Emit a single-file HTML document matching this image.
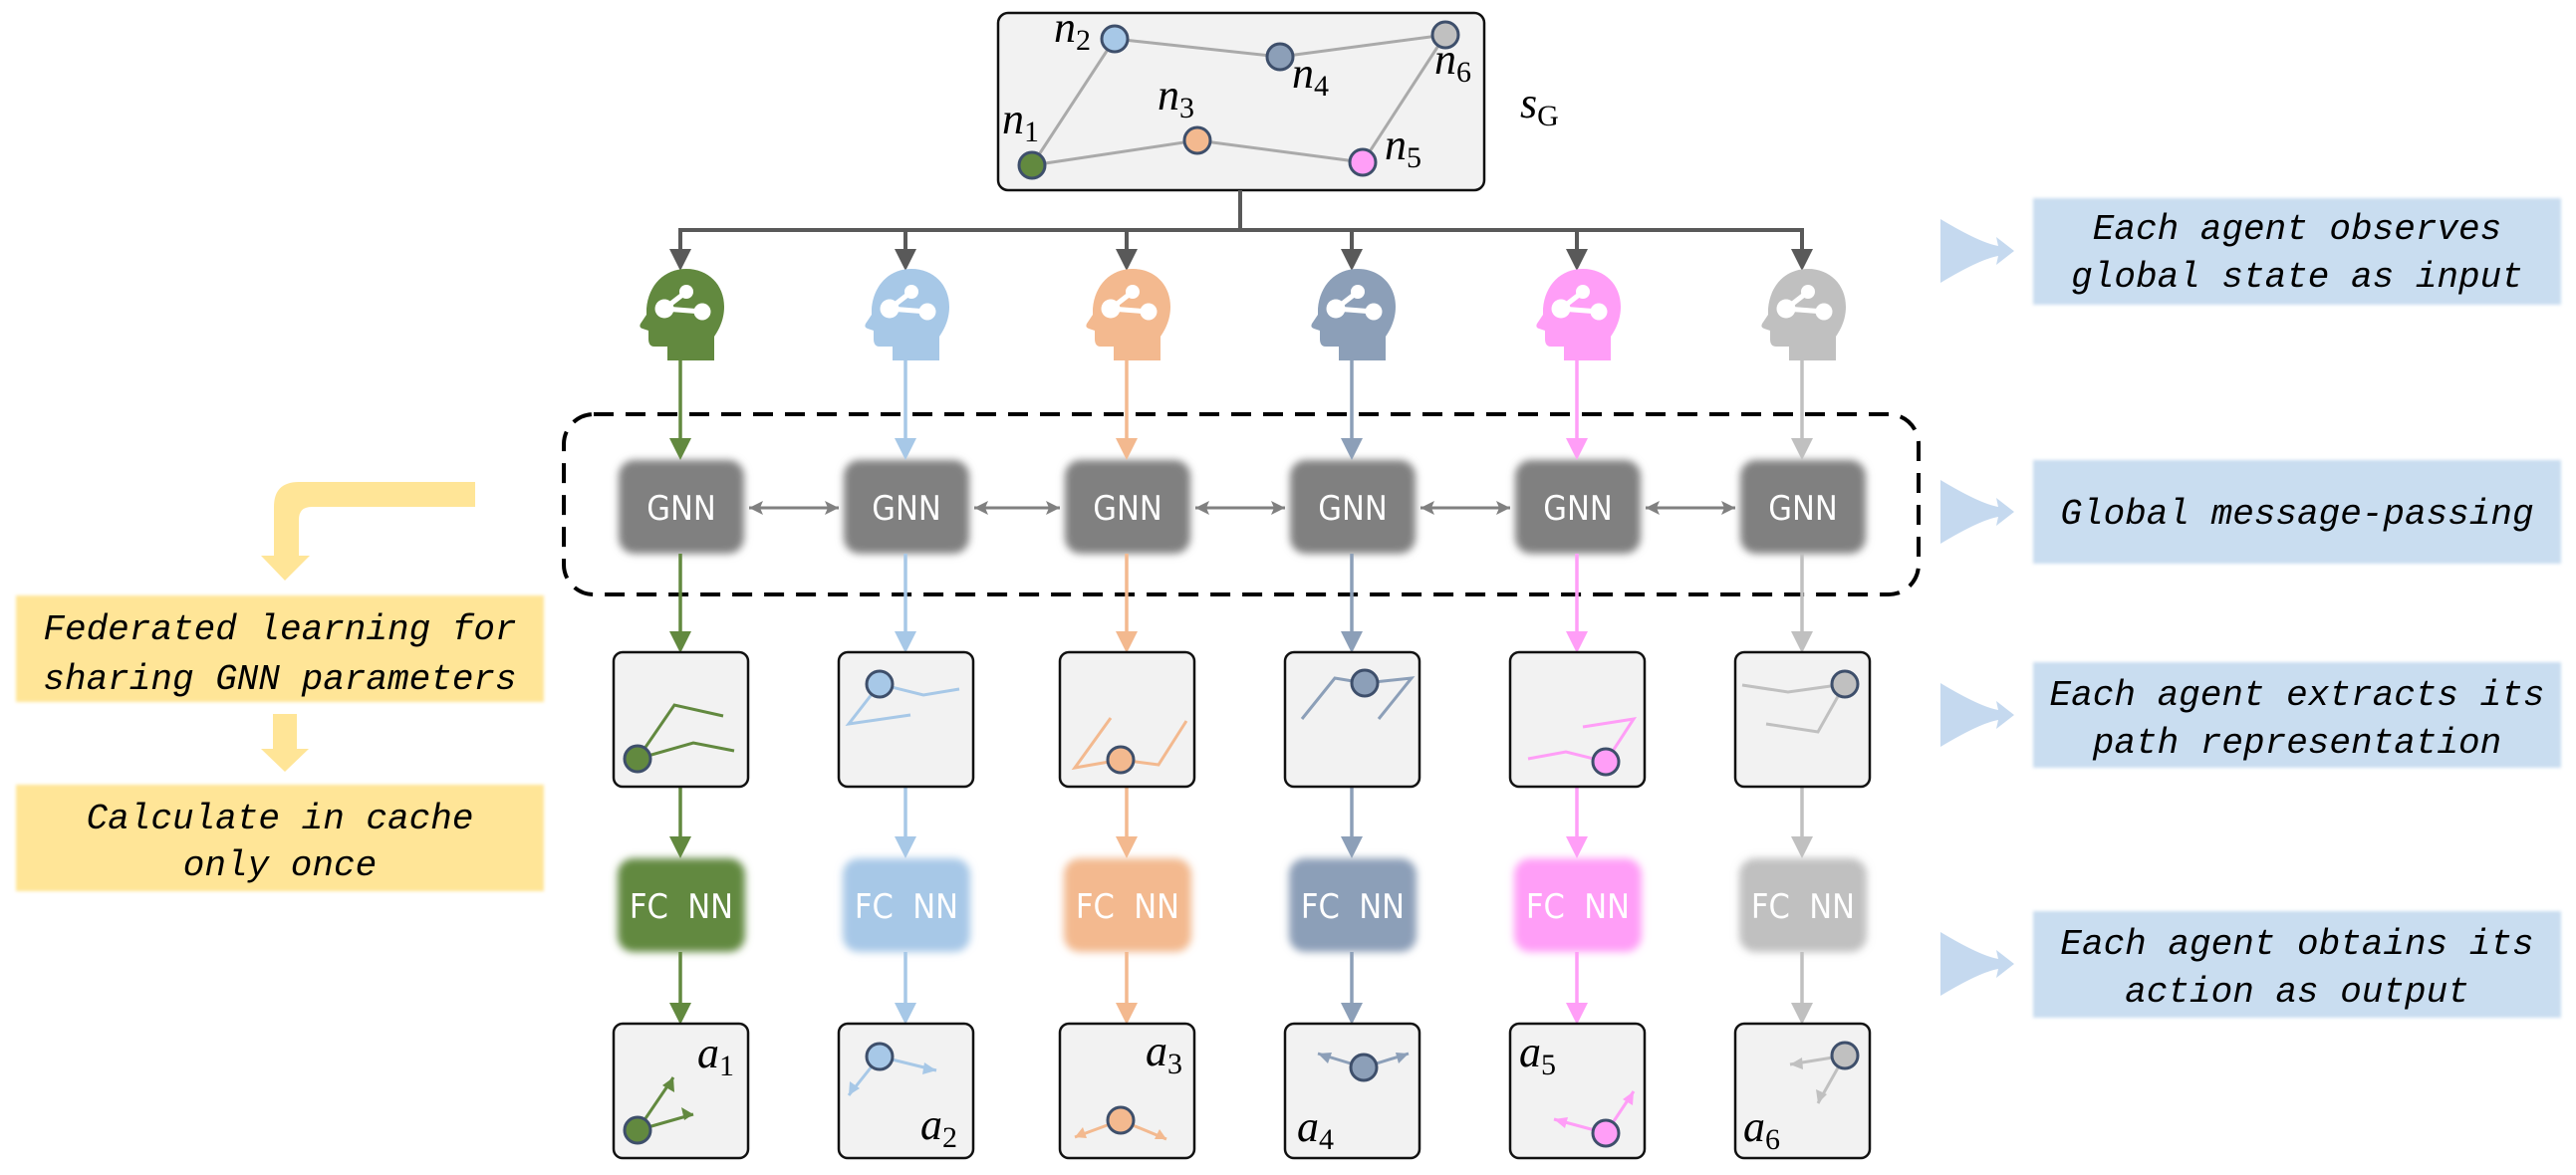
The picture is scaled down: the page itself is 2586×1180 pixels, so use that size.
<!DOCTYPE html>
<html><head><meta charset="utf-8"><style>
html,body{margin:0;padding:0;background:#fff;}
svg{display:block;}
.m{font-family:"Liberation Mono",monospace;font-style:italic;font-size:36px;fill:#000;}
.lab{font-family:"Liberation Serif",serif;font-style:italic;font-size:44px;fill:#000;}
.sub{font-size:30px;font-style:normal;}
.w{font-family:"DejaVu Sans Condensed","Liberation Sans Narrow","Liberation Sans",sans-serif;font-size:34px;fill:#fff;}
</style></head><body>
<svg width="2586" height="1180" viewBox="0 0 2586 1180" xmlns="http://www.w3.org/2000/svg">
<defs>
<filter id="bl" x="-20%" y="-20%" width="140%" height="140%"><feGaussianBlur stdDeviation="4"/></filter>
<filter id="bl2" x="-10%" y="-10%" width="120%" height="120%"><feGaussianBlur stdDeviation="1.5"/></filter>
<g id="head">
<path d="M29,92 L29,78 L16,78 C11,78 10,74 10,70 L10,62 L4,60 C1,59 1,57 2,55 L8,46 C8,44 8,42 8,40 C10,16 26,0 48,0 C70,0 86,16 86,38 C86,52 80,62 76,68 L76,92 Z"/>
<g stroke="#fff" stroke-width="5" fill="#fff"><line x1="48" y1="23" x2="26" y2="40"/><line x1="26" y1="40" x2="64" y2="43"/>
<circle cx="48" cy="23" r="7" stroke="none"/><circle cx="26" cy="40" r="9.5" stroke="none"/><circle cx="64" cy="43" r="8.5" stroke="none"/></g>
</g>
<path id="chev" d="M0,0 Q40,24 58,27 L56,18 L74,32 L56,46 L58,37 Q40,40 0,64 Z"/>
</defs>

<rect x="1002" y="13" width="488" height="178" rx="10" fill="#f2f2f2" stroke="#111" stroke-width="2.5"/>
<g stroke="#aaa" stroke-width="3" fill="none">
<polyline points="1036,166 1119,39 1285,57 1451,35 1368,163 1202,141 1036,166"/>
</g>
<g stroke="#3e4f6b" stroke-width="3">
<circle cx="1119" cy="39" r="13" fill="#a7c8e7"/>
<circle cx="1285" cy="57" r="13" fill="#8c9fb8"/>
<circle cx="1451" cy="35" r="13" fill="#c0c0c0"/>
<circle cx="1202" cy="141" r="13" fill="#f3b98f"/>
<circle cx="1036" cy="166" r="13" fill="#62893f"/>
<circle cx="1368" cy="163" r="13" fill="#ff9ef7"/>
</g>
<text class="lab" x="1058" y="42">n<tspan class="sub" dy="8">2</tspan></text>
<text class="lab" x="1297" y="88">n<tspan class="sub" dy="8">4</tspan></text>
<text class="lab" x="1440" y="74">n<tspan class="sub" dy="8">6</tspan></text>
<text class="lab" x="1162" y="110">n<tspan class="sub" dy="8">3</tspan></text>
<text class="lab" x="1006" y="134">n<tspan class="sub" dy="8">1</tspan></text>
<text class="lab" x="1390" y="160">n<tspan class="sub" dy="8">5</tspan></text>
<text class="lab" x="1526" y="118">s<tspan class="sub" font-style="italic" dy="8">G</tspan></text>

<g stroke="#595959" stroke-width="4" fill="none">
<line x1="1245" y1="191" x2="1245" y2="231"/>
<line x1="683" y1="231" x2="1809" y2="231"/>
<line x1="683" y1="229" x2="683" y2="252"/><line x1="909" y1="229" x2="909" y2="252"/><line x1="1131" y1="229" x2="1131" y2="252"/><line x1="1357" y1="229" x2="1357" y2="252"/><line x1="1583" y1="229" x2="1583" y2="252"/><line x1="1809" y1="229" x2="1809" y2="252"/>
</g>
<g fill="#595959">
<polygon points="672,250 694,250 683,272"/><polygon points="898,250 920,250 909,272"/><polygon points="1120,250 1142,250 1131,272"/><polygon points="1346,250 1368,250 1357,272"/><polygon points="1572,250 1594,250 1583,272"/><polygon points="1798,250 1820,250 1809,272"/>
</g>

<rect x="566" y="416" width="1360" height="181" rx="30" fill="none" stroke="#000" stroke-width="4" stroke-dasharray="20 12"/>

<g fill="#808080" filter="url(#bl)">
<rect x="621" y="462" width="126" height="94" rx="16"/><rect x="847" y="462" width="126" height="94" rx="16"/><rect x="1069" y="462" width="126" height="94" rx="16"/><rect x="1295" y="462" width="126" height="94" rx="16"/><rect x="1521" y="462" width="126" height="94" rx="16"/><rect x="1747" y="462" width="126" height="94" rx="16"/>
</g>
<g text-anchor="middle">
<text x="684" y="522" class="w">GNN</text><text x="910" y="522" class="w">GNN</text><text x="1132" y="522" class="w">GNN</text><text x="1358" y="522" class="w">GNN</text><text x="1584" y="522" class="w">GNN</text><text x="1810" y="522" class="w">GNN</text>
</g>
<g stroke="#808080" stroke-width="3" fill="none">
<line x1="752" y1="510" x2="842" y2="510"/><line x1="978" y1="510" x2="1064" y2="510"/><line x1="1200" y1="510" x2="1290" y2="510"/><line x1="1426" y1="510" x2="1516" y2="510"/><line x1="1652" y1="510" x2="1742" y2="510"/>
</g>
<g fill="#808080">
<polygon points="752,510 766,503 763,510 766,517"/><polygon points="842,510 828,503 831,510 828,517"/>
<polygon points="978,510 992,503 989,510 992,517"/><polygon points="1064,510 1050,503 1053,510 1050,517"/>
<polygon points="1200,510 1214,503 1211,510 1214,517"/><polygon points="1290,510 1276,503 1279,510 1276,517"/>
<polygon points="1426,510 1440,503 1437,510 1440,517"/><polygon points="1516,510 1502,503 1505,510 1502,517"/>
<polygon points="1652,510 1666,503 1663,510 1666,517"/><polygon points="1742,510 1728,503 1731,510 1728,517"/>
</g>

<g fill="#62893f"><use href="#head" transform="translate(641,270)"/></g>
<g fill="#a7c8e7"><use href="#head" transform="translate(867,270)"/></g>
<g fill="#f3b98f"><use href="#head" transform="translate(1089,270)"/></g>
<g fill="#8c9fb8"><use href="#head" transform="translate(1315,270)"/></g>
<g fill="#ff9ef7"><use href="#head" transform="translate(1541,270)"/></g>
<g fill="#c0c0c0"><use href="#head" transform="translate(1767,270)"/></g>

<g filter="url(#bl)">
<rect x="620" y="862" width="128" height="94" rx="16" fill="#62893f"/>
<rect x="846" y="862" width="128" height="94" rx="16" fill="#a7c8e7"/>
<rect x="1068" y="862" width="128" height="94" rx="16" fill="#f3b98f"/>
<rect x="1294" y="862" width="128" height="94" rx="16" fill="#8c9fb8"/>
<rect x="1520" y="862" width="128" height="94" rx="16" fill="#ff9ef7"/>
<rect x="1746" y="862" width="128" height="94" rx="16" fill="#c0c0c0"/>
</g>
<g text-anchor="middle">
<text x="684" y="922" class="w" xml:space="preserve">FC  NN</text><text x="910" y="922" class="w" xml:space="preserve">FC  NN</text><text x="1132" y="922" class="w" xml:space="preserve">FC  NN</text><text x="1358" y="922" class="w" xml:space="preserve">FC  NN</text><text x="1584" y="922" class="w" xml:space="preserve">FC  NN</text><text x="1810" y="922" class="w" xml:space="preserve">FC  NN</text>
</g>

<g stroke-width="3.5" fill="none">
<g stroke="#62893f"><line x1="683" y1="362" x2="683" y2="442"/><line x1="683" y1="556" x2="683" y2="636"/><line x1="683" y1="790" x2="683" y2="842"/><line x1="683" y1="956" x2="683" y2="1009"/></g>
<g stroke="#a7c8e7"><line x1="909" y1="362" x2="909" y2="442"/><line x1="909" y1="556" x2="909" y2="636"/><line x1="909" y1="790" x2="909" y2="842"/><line x1="909" y1="956" x2="909" y2="1009"/></g>
<g stroke="#f3b98f"><line x1="1131" y1="362" x2="1131" y2="442"/><line x1="1131" y1="556" x2="1131" y2="636"/><line x1="1131" y1="790" x2="1131" y2="842"/><line x1="1131" y1="956" x2="1131" y2="1009"/></g>
<g stroke="#8c9fb8"><line x1="1357" y1="362" x2="1357" y2="442"/><line x1="1357" y1="556" x2="1357" y2="636"/><line x1="1357" y1="790" x2="1357" y2="842"/><line x1="1357" y1="956" x2="1357" y2="1009"/></g>
<g stroke="#ff9ef7"><line x1="1583" y1="362" x2="1583" y2="442"/><line x1="1583" y1="556" x2="1583" y2="636"/><line x1="1583" y1="790" x2="1583" y2="842"/><line x1="1583" y1="956" x2="1583" y2="1009"/></g>
<g stroke="#c0c0c0"><line x1="1809" y1="362" x2="1809" y2="442"/><line x1="1809" y1="556" x2="1809" y2="636"/><line x1="1809" y1="790" x2="1809" y2="842"/><line x1="1809" y1="956" x2="1809" y2="1009"/></g>
</g>
<g>
<g fill="#62893f"><polygon points="672,440 694,440 683,462"/><polygon points="672,634 694,634 683,656"/><polygon points="672,840 694,840 683,862"/><polygon points="672,1007 694,1007 683,1029"/></g>
<g fill="#a7c8e7"><polygon points="898,440 920,440 909,462"/><polygon points="898,634 920,634 909,656"/><polygon points="898,840 920,840 909,862"/><polygon points="898,1007 920,1007 909,1029"/></g>
<g fill="#f3b98f"><polygon points="1120,440 1142,440 1131,462"/><polygon points="1120,634 1142,634 1131,656"/><polygon points="1120,840 1142,840 1131,862"/><polygon points="1120,1007 1142,1007 1131,1029"/></g>
<g fill="#8c9fb8"><polygon points="1346,440 1368,440 1357,462"/><polygon points="1346,634 1368,634 1357,656"/><polygon points="1346,840 1368,840 1357,862"/><polygon points="1346,1007 1368,1007 1357,1029"/></g>
<g fill="#ff9ef7"><polygon points="1572,440 1594,440 1583,462"/><polygon points="1572,634 1594,634 1583,656"/><polygon points="1572,840 1594,840 1583,862"/><polygon points="1572,1007 1594,1007 1583,1029"/></g>
<g fill="#c0c0c0"><polygon points="1798,440 1820,440 1809,462"/><polygon points="1798,634 1820,634 1809,656"/><polygon points="1798,840 1820,840 1809,862"/><polygon points="1798,1007 1820,1007 1809,1029"/></g>
</g>

<g fill="#f2f2f2" stroke="#111" stroke-width="2.5">
<rect x="616" y="655" width="135" height="135" rx="9"/><rect x="842" y="655" width="135" height="135" rx="9"/><rect x="1064" y="655" width="135" height="135" rx="9"/><rect x="1290" y="655" width="135" height="135" rx="9"/><rect x="1516" y="655" width="135" height="135" rx="9"/><rect x="1742" y="655" width="135" height="135" rx="9"/>
<rect x="616" y="1028" width="135" height="135" rx="9"/><rect x="842" y="1028" width="135" height="135" rx="9"/><rect x="1064" y="1028" width="135" height="135" rx="9"/><rect x="1290" y="1028" width="135" height="135" rx="9"/><rect x="1516" y="1028" width="135" height="135" rx="9"/><rect x="1742" y="1028" width="135" height="135" rx="9"/>
</g>
<g fill="none" stroke-width="3">
<polyline stroke="#62893f" points="640,762 677,708 726,719"/><polyline stroke="#62893f" points="640,762 696,746 737,754"/>
<polyline stroke="#a7c8e7" points="883,687 927,698 963,692"/><polyline stroke="#a7c8e7" points="883,687 852,727 914,718"/>
<polyline stroke="#f3b98f" points="1125,763 1079,771 1115,721"/><polyline stroke="#f3b98f" points="1125,763 1163,768 1191,724"/>
<polyline stroke="#8c9fb8" points="1307,722 1340,681 1370,686"/><polyline stroke="#8c9fb8" points="1370,686 1417,681 1384,722"/>
<polyline stroke="#ff9ef7" points="1534,762 1572,755 1612,765"/><polyline stroke="#ff9ef7" points="1612,765 1640,722 1589,730"/>
<polyline stroke="#c0c0c0" points="1749,688 1795,695 1852,687"/><polyline stroke="#c0c0c0" points="1852,687 1825,735 1773,727"/>
</g>
<g stroke="#3e4f6b" stroke-width="3">
<circle cx="640" cy="762" r="13" fill="#62893f"/><circle cx="883" cy="687" r="13" fill="#a7c8e7"/><circle cx="1125" cy="763" r="13" fill="#f3b98f"/><circle cx="1370" cy="686" r="13" fill="#8c9fb8"/><circle cx="1612" cy="765" r="13" fill="#ff9ef7"/><circle cx="1852" cy="687" r="13" fill="#c0c0c0"/>
</g>

<g fill="none" stroke-width="3">
<g stroke="#62893f"><line x1="640" y1="1135" x2="676" y2="1082"/><line x1="640" y1="1135" x2="696" y2="1119"/></g>
<g stroke="#a7c8e7"><line x1="883" y1="1061" x2="940" y2="1075"/><line x1="883" y1="1061" x2="852" y2="1100"/></g>
<g stroke="#f3b98f"><line x1="1125" y1="1125" x2="1079" y2="1142"/><line x1="1125" y1="1125" x2="1171" y2="1144"/></g>
<g stroke="#8c9fb8"><line x1="1369" y1="1072" x2="1323" y2="1058"/><line x1="1369" y1="1072" x2="1414" y2="1058"/></g>
<g stroke="#ff9ef7"><line x1="1612" y1="1138" x2="1560" y2="1124"/><line x1="1612" y1="1138" x2="1640" y2="1096"/></g>
<g stroke="#c0c0c0"><line x1="1852" y1="1060" x2="1797" y2="1069"/><line x1="1852" y1="1060" x2="1825" y2="1108"/></g>
</g>
<g>
<polygon fill="#62893f" points="676,1082 677,1097 665,1090"/><polygon fill="#62893f" points="696,1119 684,1112 687,1125"/>
<polygon fill="#a7c8e7" points="940,1075 928,1067 926,1079"/><polygon fill="#a7c8e7" points="852,1100 853,1086 863,1093"/>
<polygon fill="#f3b98f" points="1079,1142 1087,1132 1091,1143"/><polygon fill="#f3b98f" points="1171,1144 1159,1144 1164,1134"/>
<polygon fill="#8c9fb8" points="1323,1058 1337,1057 1333,1068"/><polygon fill="#8c9fb8" points="1414,1058 1404,1068 1401,1057"/>
<polygon fill="#ff9ef7" points="1560,1124 1574,1122 1571,1133"/><polygon fill="#ff9ef7" points="1640,1096 1639,1110 1629,1104"/>
<polygon fill="#c0c0c0" points="1797,1069 1809,1062 1810,1074"/><polygon fill="#c0c0c0" points="1825,1108 1823,1094 1834,1099"/>
</g>
<g stroke="#3e4f6b" stroke-width="3">
<circle cx="640" cy="1135" r="13" fill="#62893f"/><circle cx="883" cy="1061" r="13" fill="#a7c8e7"/><circle cx="1125" cy="1125" r="13" fill="#f3b98f"/><circle cx="1369" cy="1072" r="13" fill="#8c9fb8"/><circle cx="1612" cy="1138" r="13" fill="#ff9ef7"/><circle cx="1852" cy="1060" r="13" fill="#c0c0c0"/>
</g>
<text class="lab" x="700" y="1072">a<tspan class="sub" dy="8">1</tspan></text>
<text class="lab" x="924" y="1144">a<tspan class="sub" dy="8">2</tspan></text>
<text class="lab" x="1150" y="1070">a<tspan class="sub" dy="8">3</tspan></text>
<text class="lab" x="1302" y="1146">a<tspan class="sub" dy="8">4</tspan></text>
<text class="lab" x="1525" y="1071">a<tspan class="sub" dy="8">5</tspan></text>
<text class="lab" x="1750" y="1146">a<tspan class="sub" dy="8">6</tspan></text>

<g fill="#c5d9ef">
<use href="#chev" transform="translate(1948,220)"/>
<use href="#chev" transform="translate(1948,482)"/>
<use href="#chev" transform="translate(1948,686)"/>
<use href="#chev" transform="translate(1948,936)"/>
</g>
<g fill="#c9ddf0" filter="url(#bl2)">
<rect x="2041" y="199" width="530" height="107"/>
<rect x="2041" y="462" width="530" height="104"/>
<rect x="2041" y="665" width="530" height="106"/>
<rect x="2041" y="915" width="530" height="107"/>
</g>
<g class="m" text-anchor="middle">
<text x="2306" y="240">Each agent observes</text>
<text x="2306" y="288">global state as input</text>
<text x="2306" y="526">Global message-passing</text>
<text x="2306" y="708">Each agent extracts its</text>
<text x="2306" y="756">path representation</text>
<text x="2306" y="958">Each agent obtains its</text>
<text x="2306" y="1006">action as output</text>
</g>

<g fill="#ffe597">
<path d="M477,484 L300,484 Q275,484 275,509 L275,558 L262,558 L286,583 L311,558 L300,558 L300,522 Q300,509 313,509 L477,509 Z"/>
<path d="M274,717 L298,717 L298,752 L310,752 L286,775 L262,752 L274,752 Z"/>
</g>
<g fill="#ffe597" filter="url(#bl2)">
<rect x="16" y="598" width="530" height="107"/>
<rect x="16" y="788" width="530" height="107"/>
</g>
<g class="m" text-anchor="middle">
<text x="281" y="642">Federated learning for</text>
<text x="281" y="692">sharing GNN parameters</text>
<text x="281" y="832">Calculate in cache</text>
<text x="281" y="879">only once</text>
</g>
</svg>
</body></html>
